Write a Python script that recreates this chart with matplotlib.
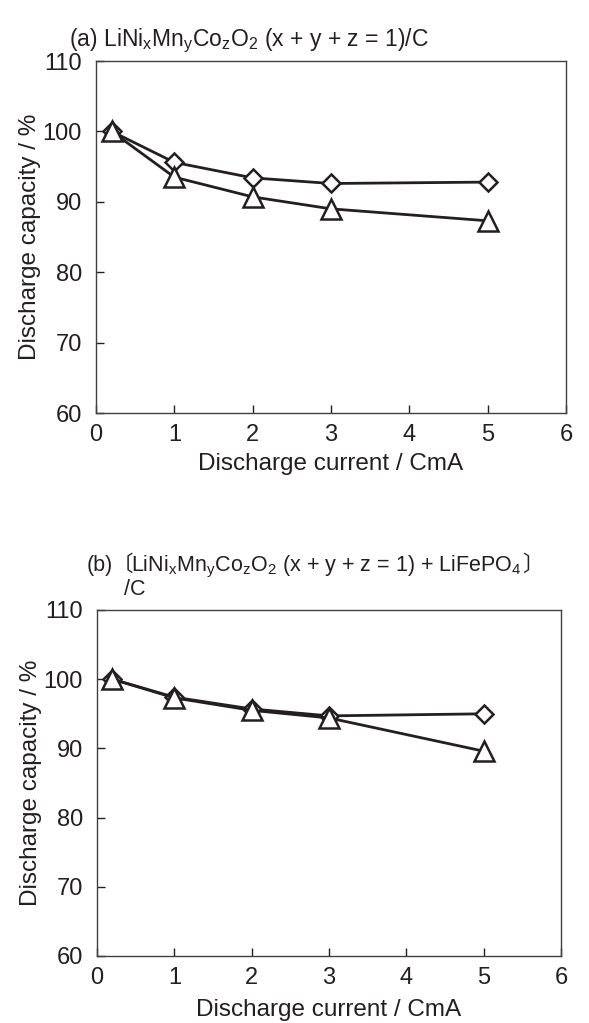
import matplotlib
matplotlib.use('Agg')
import matplotlib.pyplot as plt

# Data
current = [0.2, 1, 2, 3, 5]  # CmA

# (a) LiNixMnyCozO2/C
cap_a_diamond = [100.0, 95.6, 93.4, 92.6, 92.8]
cap_a_triangle = [100.0, 93.5, 90.7, 89.0, 87.3]

# (b) [LiNixMnyCozO2 + LiFePO4]/C
cap_b_diamond = [100.0, 97.4, 95.7, 94.7, 95.0]
cap_b_triangle = [100.0, 97.3, 95.5, 94.4, 89.6]

x_ticks = [0, 1, 2, 3, 4, 5, 6]
y_ticks = [60, 70, 80, 90, 100, 110]

INK = '#231f20'
TICK_FS = 17
LABEL_FS = 17.5
TITLE_FS = 16.5

plt.rcParams['font.family'] = ['Liberation Sans', 'Noto Sans CJK JP']
plt.rcParams['mathtext.fontset'] = 'custom'
plt.rcParams['mathtext.rm'] = 'Liberation Sans'
plt.rcParams['mathtext.it'] = 'Liberation Sans'
plt.rcParams['mathtext.default'] = 'regular'

W, H = 589, 1023
fig = plt.figure(figsize=(W / 100, H / 100), dpi=100)


def px_box(left, right, top, bottom):
    """Figure-fraction rect from pixel edges"""
    return [left / W, 1 - bottom / H, (right - left) / W, (bottom - top) / H]


def draw_panel(ax, diamonds, triangles, xlab_y, ylab_x):
    ax.plot(current, diamonds, color=INK, lw=2.0, marker='D', ms=9.5,
            mfc='white', mec=INK, mew=1.8, zorder=3)
    ax.plot(current, triangles, color=INK, lw=2.0, marker='^', ms=14,
            mfc='white', mec=INK, mew=1.8, zorder=4)
    ax.set_xlim(0, 6)
    ax.set_ylim(60, 110)
    ax.set_xticks(x_ticks)
    ax.set_yticks(y_ticks)
    ax.tick_params(direction='in', length=6, width=1.0, colors=INK,
                   labelsize=TICK_FS, top=False, right=False)
    ax.tick_params(axis='x', pad=8)
    ax.tick_params(axis='y', pad=10)
    for s in ax.spines.values():
        s.set_color('#404040')
        s.set_linewidth(1.0)
    ax.set_xlabel('Discharge current / CmA', fontsize=LABEL_FS, color=INK)
    ax.set_ylabel('Discharge capacity / %', fontsize=LABEL_FS, color=INK)
    ax.xaxis.set_label_coords(0.5, xlab_y)
    ax.yaxis.set_label_coords(ylab_x, 0.5)


ax_a = fig.add_axes(px_box(96, 566, 61, 413))
draw_panel(ax_a, cap_a_diamond, cap_a_triangle, -0.115, -0.116)

ax_b = fig.add_axes(px_box(97, 561, 610, 956))
draw_panel(ax_b, cap_b_diamond, cap_b_triangle, -0.125, -0.119)

# titles
fig.text(69 / W, 1 - 46 / H, r'(a) LiNi$_x$Mn$_y$Co$_z$O$_2$ (x + y + z = 1)/C',
         fontsize=TITLE_FS, color=INK, va='baseline', ha='left')

B_FS = 15.5
y_b = 1 - 571 / H
fig.text(87 / W, y_b, '(b)', fontsize=B_FS, color=INK, va='baseline', ha='left')
fig.text(133 / W, y_b, '〔', fontsize=B_FS, color=INK, va='baseline', ha='right')
mid = fig.text(131 / W, y_b, r'LiNi$_x$Mn$_y$Co$_z$O$_2$ (x + y + z = 1) + LiFePO$_4$',
               fontsize=B_FS, color=INK, va='baseline', ha='left')
fig.canvas.draw()
x_end = mid.get_window_extent().x1
fig.text(x_end / W, y_b, '〕', fontsize=B_FS, color=INK, va='baseline', ha='left')
fig.text(124 / W, 1 - 595 / H, '/C', fontsize=B_FS, color=INK, va='baseline', ha='left')

fig.savefig('out.png', dpi=100)
